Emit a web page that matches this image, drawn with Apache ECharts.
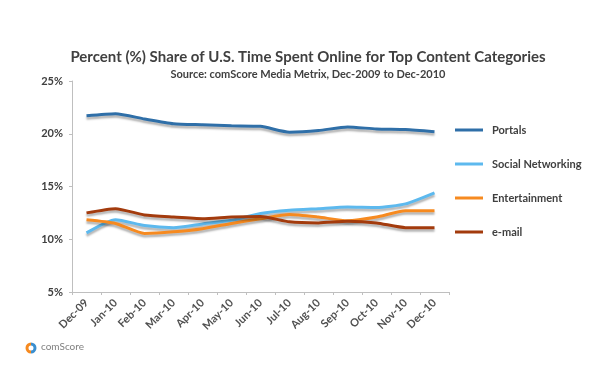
<!DOCTYPE html>
<html>
<head>
<meta charset="utf-8">
<script src="https://cdn.jsdelivr.net/npm/echarts@6/dist/echarts.min.js"></script>
<style>
html,body{margin:0;padding:0;background:#fff;}
#chart{width:600px;height:382px;}
</style>
</head>
<body>
<div id="chart"></div>
<script>
const categories = ['Dec-09','Jan-10','Feb-10','Mar-10','Apr-10','May-10','Jun-10','Jul-10','Aug-10','Sep-10','Oct-10','Nov-10','Dec-10'];
const portals = [21.7, 21.9, 21.4, 20.95, 20.85, 20.75, 20.7, 20.15, 20.3, 20.65, 20.45, 20.4, 20.2];
const socialNetworking = [10.6, 11.85, 11.3, 11.1, 11.45, 11.8, 12.45, 12.75, 12.9, 13.05, 13.0, 13.35, 14.4];
const entertainment = [11.85, 11.5, 10.55, 10.7, 11.0, 11.5, 11.95, 12.35, 12.1, 11.75, 12.1, 12.7, 12.7];
const email = [12.5, 12.9, 12.3, 12.1, 11.95, 12.1, 12.15, 11.65, 11.55, 11.7, 11.55, 11.1, 11.1];
const yTicks = [5, 10, 15, 20, 25];
const seriesNames = ['Portals', 'Social Networking', 'Entertainment', 'e-mail'];
const seriesData = [portals, socialNetworking, entertainment, email];
const colors = ['#2F6FA8', '#5DB9EE', '#F68A20', '#A33B0D'];

const chart = echarts.init(document.getElementById('chart'));
const font = 'Lato, "Open Sans", sans-serif';
chart.setOption({
  animation: false,
  backgroundColor: '#ffffff',
  title: [{
    text: 'Percent (%) Share of U.S. Time Spent Online for Top Content Categories',
    left: 303, textAlign: 'center', top: 45,
    textStyle: {fontFamily: font, fontSize: 15, fontWeight: 'bold', color: '#404040'}
  }, {
    text: 'Source: comScore Media Metrix, Dec-2009 to Dec-2010',
    left: 303, textAlign: 'center', top: 64,
    textStyle: {fontFamily: font, fontSize: 11, fontWeight: 'bold', color: '#404040'}
  }],
  grid: {left: 72, top: 81, width: 377, height: 211, containLabel: false},
  legend: {
    orient: 'vertical', left: 450, top: 118,
    itemWidth: 28, itemHeight: 3, itemGap: 20,
    icon: 'rect',
    data: seriesNames,
    textStyle: {fontFamily: font, fontSize: 11, fontWeight: 'bold', color: '#404040', lineHeight: 14, padding: [0,0,0,4]}
  },
  xAxis: {
    type: 'category', data: categories, boundaryGap: true,
    axisLine: {lineStyle: {color: '#BFBFBF', width: 1}},
    axisTick: {show: true, length: 3, lineStyle: {color: '#BFBFBF'}},
    axisLabel: {rotate: 45, margin: 9, fontFamily: font, fontSize: 11, fontWeight: 'bold', color: '#505050'}
  },
  yAxis: {
    type: 'value', min: yTicks[0], max: yTicks[yTicks.length - 1], interval: 5,
    axisLine: {show: true, lineStyle: {color: '#BFBFBF', width: 1}},
    axisTick: {show: true, length: 3, lineStyle: {color: '#BFBFBF'}},
    splitLine: {show: false},
    axisLabel: {formatter: '{value}%', margin: 9, fontFamily: font, fontSize: 11, fontWeight: 'bold', color: '#404040'}
  },
  series: seriesNames.map((n, i) => ({
    name: n, type: 'line', data: seriesData[i],
    smooth: 0.2, symbol: 'none',
    itemStyle: {color: colors[i]},
    lineStyle: {color: colors[i], width: 3, shadowColor: 'rgba(0,0,0,0.3)', shadowBlur: 2, shadowOffsetY: 2.5}
  })),
  graphic: [
    {type: 'arc', shape: {cx: 31, cy: 348, r: 4, startAngle: Math.PI * 0.5, endAngle: Math.PI * 1.5}, style: {stroke: '#F68A20', lineWidth: 3, fill: null}},
    {type: 'arc', shape: {cx: 31, cy: 348, r: 4, startAngle: -Math.PI * 0.5, endAngle: Math.PI * 0.5}, style: {stroke: '#3A8FD0', lineWidth: 3, fill: null}},
    {type: 'text', left: 41, top: 342, style: {text: 'comScore', fontFamily: font, fontSize: 10, fill: '#7F7F7F'}}
  ]
});
</script>
</body>
</html>
